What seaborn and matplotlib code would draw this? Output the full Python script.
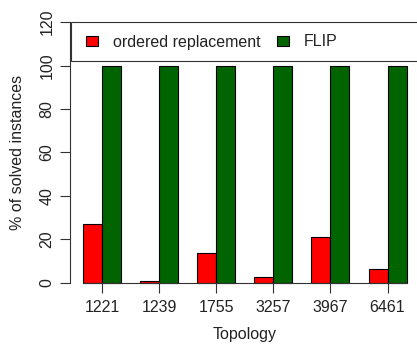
import matplotlib
matplotlib.use("Agg")
import matplotlib.pyplot as plt
import seaborn as sns
import pandas as pd
from matplotlib.patches import Rectangle

topologies = ["1221", "1239", "1755", "3257", "3967", "6461"]
ordered_replacement = [27, 1, 14, 2.6, 21, 6.4]
flip = [100, 100, 100, 100, 100, 100]
methods = ["ordered replacement", "FLIP"]
colors = ["#FF0000", "#006400"]
yticks = [0, 20, 40, 60, 80, 100, 120]

df = pd.DataFrame({
    "Topology": topologies * 2,
    "value": ordered_replacement + flip,
    "method": [methods[0]] * len(topologies) + [methods[1]] * len(topologies),
})

sns.set_style("white")
plt.rcParams["font.family"] = ["Liberation Sans", "DejaVu Sans"]
FS = 11.5

W, H = 417, 347
fig = plt.figure(figsize=(W / 100, H / 100), dpi=100)
x0, x1 = 70, 419.6
y0, y1 = 11.6, 293.4
ax = fig.add_axes([x0 / W, 1 - y1 / H, (x1 - x0) / W, (y1 - y0) / H])

sns.barplot(data=df, x="Topology", y="value", hue="method", order=topologies,
            hue_order=methods, palette=colors, width=2 / 3, dodge=True,
            edgecolor="black", linewidth=0.8, saturation=1, ax=ax, legend=True)

ax.set_xlim(-1 / 3 - 0.228, 5 + 1 / 3 + 0.228)
ax.set_ylim(-4.8, 124.8)
ax.set_yticks(yticks)
ax.set_yticklabels([str(t) for t in yticks], rotation=90, va="center")
ax.set_xticks(range(len(topologies)))
ax.set_xticklabels(topologies)
ax.tick_params(axis="both", direction="out", length=7, width=0.8, color="#333333",
               left=True, bottom=True, pad=4, labelsize=FS, labelcolor="#222222")
ax.tick_params(axis="x", pad=5)

for s in ["top", "right"]:
    ax.spines[s].set_visible(False)
ax.spines["left"].set_bounds(0, 120)
ax.spines["bottom"].set_position(("data", 0))
ax.spines["bottom"].set_bounds(-1 / 3, 5 + 1 / 3)
for s in ["left", "bottom"]:
    ax.spines[s].set_color("#333333")
    ax.spines[s].set_linewidth(0.8)

ax.set_xlabel("")
ax.set_ylabel("")
fig.text((x0 + x1) / 2 / W, 1 - 335 / H, "Topology", ha="center", va="center",
         fontsize=FS, color="#222222")
fig.text(18 / W, 1 - 152.5 / H, "% of solved instances", ha="center", va="center",
         rotation=90, fontsize=FS, color="#222222")

# legend box
xl = ax.get_xlim()[0]
ax.add_patch(Rectangle((xl + 0.01, 102.1), 10, 17.9, fill=True, facecolor="white",
                       edgecolor="#333333", linewidth=0.8, clip_on=False, zorder=5))
handles, labels = ax.get_legend_handles_labels()
leg = ax.legend(handles, labels, frameon=False, ncol=2, loc="center left",
                bbox_to_anchor=(86 / W, 1 - 42 / H), bbox_transform=fig.transFigure,
                borderaxespad=0, borderpad=0, handlelength=0.75, handleheight=0.62,
                handletextpad=0.95, columnspacing=1.0, fontsize=FS)
for t in leg.get_texts():
    t.set_color("#222222")
leg.set_zorder(6)

fig.savefig("out.png", dpi=100)
